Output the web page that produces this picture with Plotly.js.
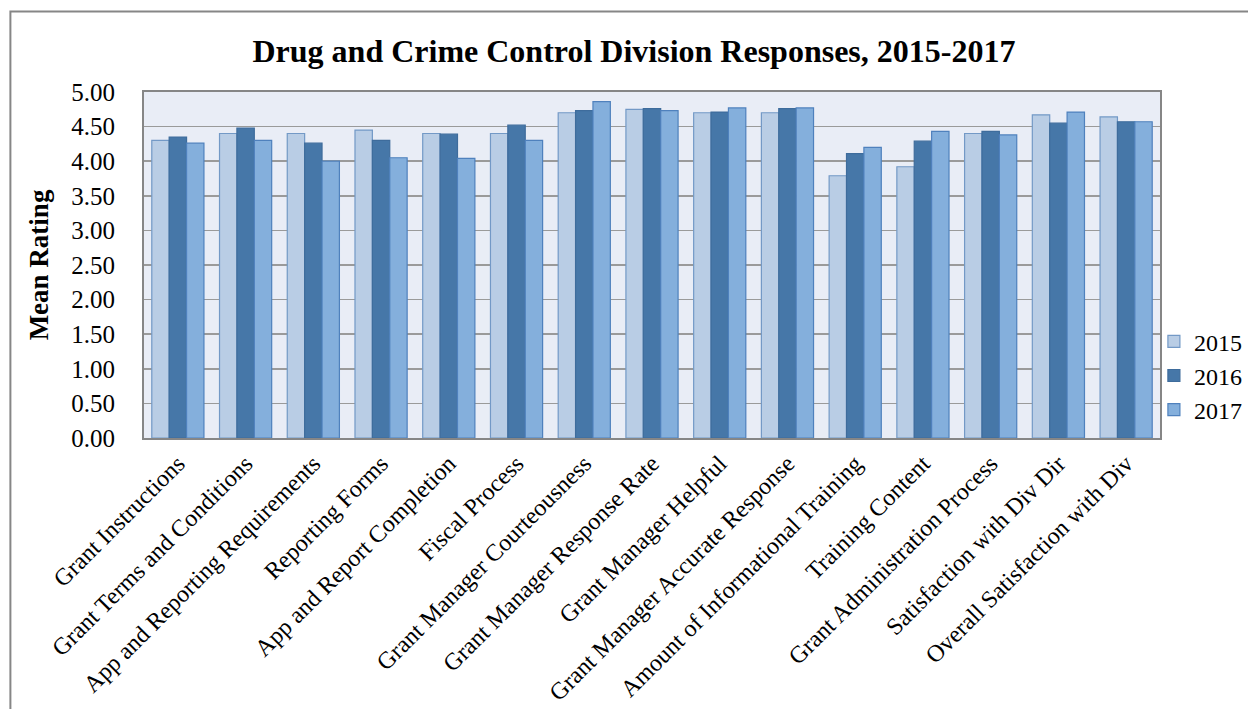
<!DOCTYPE html>
<html>
<head>
<meta charset="utf-8">
<script src="https://cdn.plot.ly/plotly-3.0.1.min.js"></script>
<style>
  html, body { margin: 0; padding: 0; background: #fff; }
  #chart { width: 1248px; height: 709px; }
</style>
</head>
<body>
<div id="chart"></div>
<script>
// Survey items rated by grantees
const categories = [
  "Grant Instructions",
  "Grant Terms and Conditions",
  "App and Reporting Requirements",
  "Reporting Forms",
  "App and Report Completion",
  "Fiscal Process",
  "Grant Manager Courteousness",
  "Grant Manager Response Rate",
  "Grant Manager Helpful",
  "Grant Manager Accurate Response",
  "Amount of Informational Training",
  "Training Content",
  "Grant Administration Process",
  "Satisfaction with Div Dir",
  "Overall Satisfaction with Div"
];

// Mean ratings per year
const ratings2015 = [4.30, 4.40, 4.40, 4.45, 4.40, 4.40, 4.70, 4.75, 4.70, 4.70, 3.79, 3.92, 4.40, 4.67, 4.64];
const ratings2016 = [4.35, 4.48, 4.26, 4.30, 4.39, 4.52, 4.73, 4.76, 4.71, 4.76, 4.11, 4.29, 4.43, 4.55, 4.57];
const ratings2017 = [4.26, 4.30, 4.00, 4.05, 4.04, 4.30, 4.86, 4.73, 4.77, 4.77, 4.20, 4.43, 4.38, 4.71, 4.57];

const yTickVals = [0, 0.5, 1, 1.5, 2, 2.5, 3, 3.5, 4, 4.5, 5];
const yTickText = ["0.00", "0.50", "1.00", "1.50", "2.00", "2.50", "3.00", "3.50", "4.00", "4.50", "5.00"];

const serif = "'Liberation Serif', 'Times New Roman', serif";

function series(name, values, fill, edge) {
  return {
    type: "bar",
    name: name,
    x: categories,
    y: values,
    marker: { color: fill, line: { color: edge, width: 1.2 } },
    hoverinfo: "x+y+name"
  };
}

const data = [
  series("2015", ratings2015, "#B9CDE5", "#7399C6"),
  series("2016", ratings2016, "#4677A8", "#3E6C9C"),
  series("2017", ratings2017, "#84AFDC", "#4F81BD")
];

const layout = {
  width: 1248,
  height: 709,
  margin: { l: 144, r: 88, t: 92, b: 271, autoexpand: false },
  paper_bgcolor: "#ffffff",
  plot_bgcolor: "#E9EDF6",
  font: { family: serif, color: "#000", size: 20 },
  title: {
    text: "<b>Drug and Crime Control Division Responses, 2015-2017</b>",
    font: { family: serif, size: 32, color: "#000" },
    x: 0.508, xanchor: "center",
    y: 0.928, yanchor: "middle"
  },
  barmode: "group",
  bargap: 0.23,
  bargroupgap: 0,
  xaxis: {
    type: "category",
    tickangle: -45,
    tickfont: { family: serif, size: 24, color: "#000" },
    showgrid: false,
    showline: true,
    linecolor: "#868686",
    linewidth: 2,
    mirror: true,
    ticks: "",
    ticklen: 0
  },
  yaxis: {
    range: [0, 5],
    tickvals: yTickVals,
    ticktext: yTickText,
    tickfont: { family: serif, size: 25, color: "#000" },
    showgrid: true,
    gridcolor: "#9A9A9A",
    gridwidth: 1.5,
    showline: true,
    linecolor: "#868686",
    linewidth: 2,
    mirror: true,
    zeroline: false,
    ticks: "",
    ticklabelstandoff: 22,
    title: {
      text: "<b>Mean Rating</b>",
      font: { family: serif, size: 27, color: "#000" },
      standoff: 15
    }
  },
  legend: {
    x: 0.994, xanchor: "left",
    y: 0.18, yanchor: "middle",
    font: { family: serif, size: 24, color: "#000" },
    bgcolor: "rgba(0,0,0,0)",
    tracegroupgap: 12,
    itemwidth: 30
  },
  shapes: [
    {
      type: "rect", xref: "paper", yref: "paper",
      x0: -0.1315, x1: 1.12, y0: -0.9, y1: 1.233,
      line: { color: "#868686", width: 2 }, fillcolor: "rgba(0,0,0,0)",
      layer: "below"
    }
  ]
};

Plotly.newPlot("chart", data, layout, { displayModeBar: false, staticPlot: true });
</script>
</body>
</html>
